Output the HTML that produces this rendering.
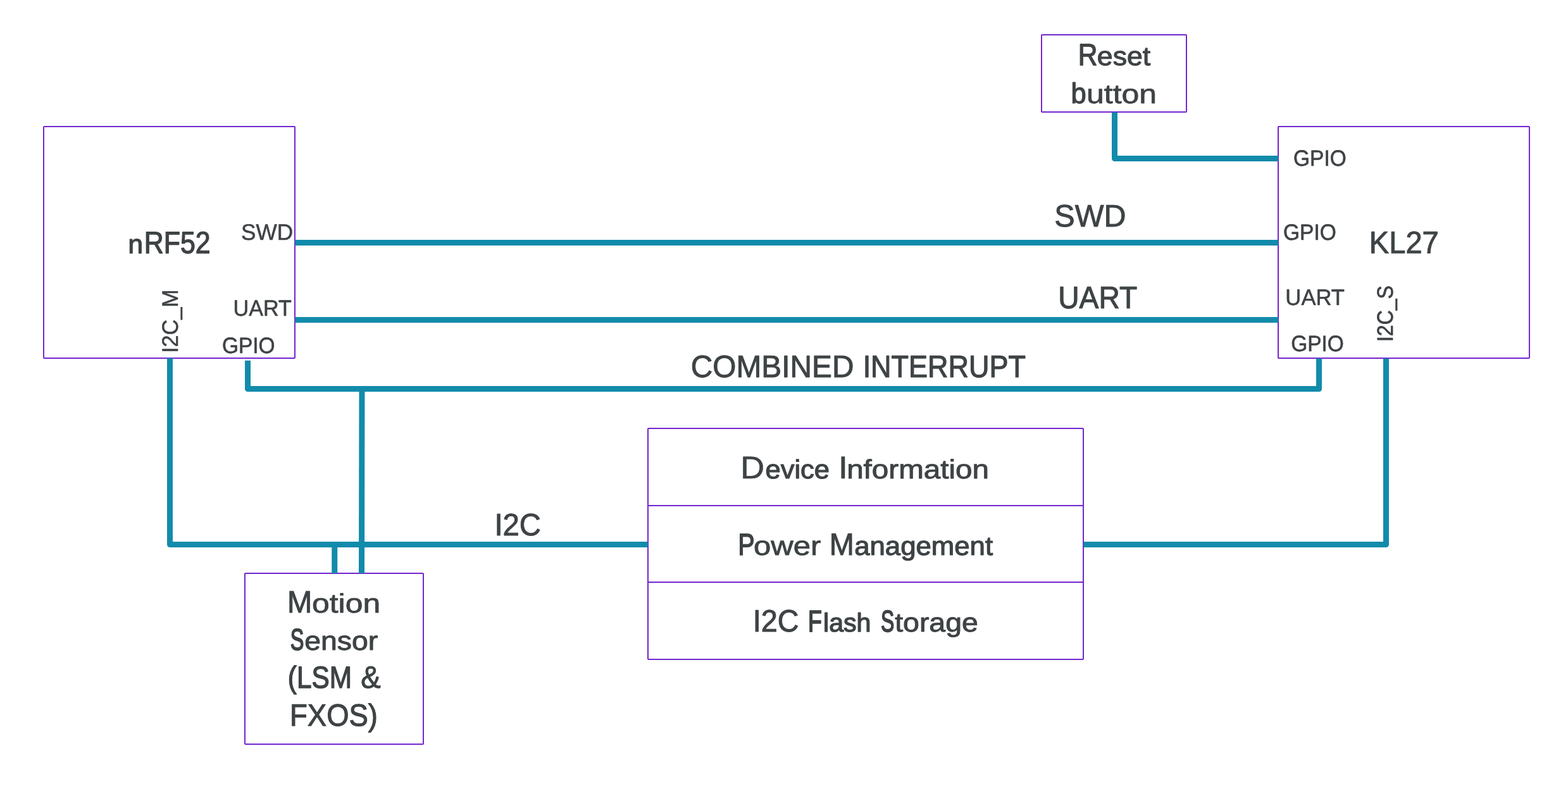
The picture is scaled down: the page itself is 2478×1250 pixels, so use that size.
<!DOCTYPE html>
<html lang="en">
<head>
<meta charset="utf-8">
<title>nRF52 / KL27 interface block diagram</title>
<style>
html,body{margin:0;padding:0;background:#fff;}
body{width:2478px;height:1250px;overflow:hidden;}
svg{display:block;}
text{text-rendering:geometricPrecision;font-family:"Liberation Sans",Arial,Helvetica,sans-serif;fill:#3e4345;stroke:#3e4345;stroke-linejoin:round;}
.big{font-size:49.00px;stroke-width:1.10px;}
.sm{font-size:35.32px;stroke-width:0.65px;}
.lc{font-size:41.65px;stroke-width:1.10px;}
.box{fill:#fff;stroke:#7426ce;stroke-width:2;stroke-linejoin:round;}
.div{stroke:#7426ce;stroke-width:2;fill:none;}
.wire{fill:none;stroke:#128bab;stroke-width:9;stroke-linejoin:round;stroke-linecap:butt;}
</style>
</head>
<body>
<svg width="2478" height="1250" viewBox="0 0 2478 1250">
<rect x="0" y="0" width="2478" height="1250" fill="#fff"/>
<g id="boxes">
<rect class="box" x="69" y="200" width="397" height="366" rx="1"/>
<rect class="box" x="2020" y="200" width="397" height="366" rx="1"/>
<rect class="box" x="1646" y="55" width="229" height="122" rx="1"/>
<rect class="box" x="387" y="906" width="282" height="270" rx="1"/>
<rect class="box" x="1024" y="677" width="688" height="365" rx="1"/>
<line class="div" x1="1024" y1="799" x2="1712" y2="799"/>
<line class="div" x1="1024" y1="920" x2="1712" y2="920"/>
</g>
<g id="wires">
<polyline class="wire" points="1761.5,177.5 1761.5,250.5 2020,250.5"/>
<polyline class="wire" points="466.4,383.5 2020,383.5"/>
<polyline class="wire" points="466.4,505.5 2020,505.5"/>
<polyline class="wire" points="391.5,569.8 391.5,614.5 2084.5,614.5 2084.5,566.5"/>
<polyline class="wire" points="572,614.5 571.5,906"/>
<polyline class="wire" points="268.5,566 268.5,860.5 1024,860.5"/>
<polyline class="wire" points="528.75,860.5 528.75,906"/>
<polyline class="wire" points="1712.4,860.5 2190.5,860.5 2190.5,566.5"/>
</g>
<g id="labels" opacity="0.999">
<text id="t-reset" class="big" y="103.00"><tspan style="font-size:48.57px;stroke-width:1.39px" x="1703.67" y="103.00" textLength="30.70" lengthAdjust="spacingAndGlyphs">R</tspan><tspan class="lc" style="font-size:41.66px;stroke-width:1.10px" x="1733.83" y="103.00" textLength="84.35" lengthAdjust="spacingAndGlyphs">eset</tspan></text>
<text id="t-button" class="big" y="163.00"><tspan class="lc" style="font-size:45.56px;stroke-width:1.24px" x="1692.54" y="163.00" textLength="24.20" lengthAdjust="spacingAndGlyphs">b</tspan><tspan class="lc" style="font-size:42.31px;stroke-width:0.75px" x="1717.08" y="163.00" textLength="111.01" lengthAdjust="spacingAndGlyphs">utton</tspan></text>
<text id="t-nrf" class="big" y="400.00"><tspan class="lc" style="font-size:41.35px;stroke-width:1.26px" x="202.56" y="400.00" textLength="23.50" lengthAdjust="spacingAndGlyphs">n</tspan><tspan style="font-size:48.61px;stroke-width:1.37px" x="227.84" y="400.00" textLength="104.70" lengthAdjust="spacingAndGlyphs">RF52</tspan></text>
<text id="t-swd_s" class="sm" y="379.00"><tspan style="font-size:35.48px;stroke-width:0.54px" x="381.03" y="379.00" textLength="82.09" lengthAdjust="spacingAndGlyphs">SWD</tspan></text>
<text id="t-uart_s" class="sm" y="499.00"><tspan style="font-size:35.37px;stroke-width:0.61px" x="368.58" y="499.00" textLength="92.40" lengthAdjust="spacingAndGlyphs">UART</tspan></text>
<text id="t-gpio_s" class="sm" y="558.00"><tspan style="font-size:35.30px;stroke-width:0.66px" x="350.96" y="558.00" textLength="83.68" lengthAdjust="spacingAndGlyphs">GPIO</tspan></text>
<text id="t-i2cm" class="sm" transform="translate(281.00,555.10) rotate(-90)" y="0"><tspan style="font-size:35.38px;stroke-width:0.61px" x="-2.76" y="0.00" textLength="100.38" lengthAdjust="spacingAndGlyphs">I2C_M</tspan></text>
<text id="t-swd" class="big" y="358.00"><tspan style="font-size:49.29px;stroke-width:0.90px" x="1666.33" y="358.00" textLength="113.20" lengthAdjust="spacingAndGlyphs">SWD</tspan></text>
<text id="t-uart" class="big" y="487.00"><tspan style="font-size:49.04px;stroke-width:1.07px" x="1672.22" y="487.00" textLength="124.99" lengthAdjust="spacingAndGlyphs">UART</tspan></text>
<text id="t-comb" class="big" y="596.00"><tspan style="font-size:49.20px;stroke-width:0.96px" x="1091.82" y="596.00" textLength="257.60" lengthAdjust="spacingAndGlyphs">COMBINED</tspan> <tspan style="font-size:48.89px;stroke-width:1.18px" x="1363.64" y="596.00" textLength="257.42" lengthAdjust="spacingAndGlyphs">INTERRUPT</tspan></text>
<text id="t-i2c" class="big" y="846.00"><tspan style="font-size:49.14px;stroke-width:1.00px" x="781.43" y="846.00" textLength="73.52" lengthAdjust="spacingAndGlyphs">I2C</tspan></text>
<text id="t-gpio1" class="sm" y="262.00"><tspan style="font-size:35.29px;stroke-width:0.67px" x="2044.06" y="262.00" textLength="83.68" lengthAdjust="spacingAndGlyphs">GPIO</tspan></text>
<text id="t-gpio2" class="sm" y="379.00"><tspan style="font-size:35.28px;stroke-width:0.68px" x="2028.04" y="379.00" textLength="83.74" lengthAdjust="spacingAndGlyphs">GPIO</tspan></text>
<text id="t-kl27" class="big" y="400.00"><tspan style="font-size:49.12px;stroke-width:1.01px" x="2163.86" y="400.00" textLength="109.95" lengthAdjust="spacingAndGlyphs">KL27</tspan></text>
<text id="t-uart_k" class="sm" y="482.00"><tspan style="font-size:35.41px;stroke-width:0.59px" x="2031.36" y="482.00" textLength="93.68" lengthAdjust="spacingAndGlyphs">UART</tspan></text>
<text id="t-gpio3" class="sm" y="555.00"><tspan style="font-size:35.29px;stroke-width:0.67px" x="2040.14" y="555.00" textLength="83.65" lengthAdjust="spacingAndGlyphs">GPIO</tspan></text>
<text id="t-i2cs" class="sm" transform="translate(2201.00,537.40) rotate(-90)" y="0"><tspan style="font-size:35.12px;stroke-width:0.79px" x="-2.63" y="0.00" textLength="88.85" lengthAdjust="spacingAndGlyphs">I2C_S</tspan></text>
<text id="t-dev" class="big" y="756.00"><tspan style="font-size:49.68px;stroke-width:0.64px" x="1170.35" y="756.00" textLength="37.83" lengthAdjust="spacingAndGlyphs">D</tspan><tspan class="lc" style="font-size:41.53px;stroke-width:1.16px" x="1209.48" y="756.00" textLength="101.61" lengthAdjust="spacingAndGlyphs">evice</tspan> <tspan style="font-size:49.87px;stroke-width:0.50px" x="1324.66" y="756.00" textLength="15.35" lengthAdjust="spacingAndGlyphs">I</tspan><tspan class="lc" style="font-size:42.04px;stroke-width:0.90px" x="1338.15" y="756.00" textLength="224.91" lengthAdjust="spacingAndGlyphs">nformation</tspan></text>
<text id="t-pow" class="big" y="877.00"><tspan style="font-size:48.07px;stroke-width:1.74px" x="1166.51" y="877.00" textLength="25.98" lengthAdjust="spacingAndGlyphs">P</tspan><tspan class="lc" style="font-size:42.23px;stroke-width:0.80px" x="1190.92" y="877.00" textLength="106.53" lengthAdjust="spacingAndGlyphs">ower</tspan> <tspan style="font-size:49.13px;stroke-width:1.01px" x="1310.82" y="877.00" textLength="39.14" lengthAdjust="spacingAndGlyphs">M</tspan><tspan class="lc" style="font-size:41.56px;stroke-width:1.15px" x="1350.18" y="877.00" textLength="218.95" lengthAdjust="spacingAndGlyphs">anagement</tspan></text>
<text id="t-fla" class="big" y="998.00"><tspan style="font-size:49.09px;stroke-width:1.04px" x="1189.77" y="998.00" textLength="72.68" lengthAdjust="spacingAndGlyphs">I2C</tspan> <tspan style="font-size:47.69px;stroke-width:2.00px" x="1277.03" y="998.00" textLength="21.89" lengthAdjust="spacingAndGlyphs">F</tspan><tspan class="lc" style="font-size:41.19px;stroke-width:1.34px" x="1301.02" y="998.00" textLength="75.50" lengthAdjust="spacingAndGlyphs">lash</tspan> <tspan style="font-size:47.69px;stroke-width:2.00px" x="1392.04" y="998.00" textLength="21.26" lengthAdjust="spacingAndGlyphs">S</tspan><tspan class="lc" style="font-size:41.90px;stroke-width:0.97px" x="1414.18" y="998.00" textLength="131.65" lengthAdjust="spacingAndGlyphs">torage</tspan></text>
<text id="t-mot" class="big" y="968.00"><tspan style="font-size:49.14px;stroke-width:1.01px" x="453.96" y="968.00" textLength="39.25" lengthAdjust="spacingAndGlyphs">M</tspan><tspan class="lc" style="font-size:42.30px;stroke-width:0.76px" x="492.97" y="968.00" textLength="108.22" lengthAdjust="spacingAndGlyphs">otion</tspan></text>
<text id="t-sen" class="big" y="1027.00"><tspan style="font-size:47.69px;stroke-width:2.00px" x="458.75" y="1027.00" textLength="21.55" lengthAdjust="spacingAndGlyphs">S</tspan><tspan class="lc" style="font-size:41.89px;stroke-width:0.98px" x="481.18" y="1027.00" textLength="116.02" lengthAdjust="spacingAndGlyphs">ensor</tspan></text>
<text id="t-lsm" class="big" y="1087.00"><tspan style="font-size:48.54px;stroke-width:1.41px" x="454.85" y="1087.00" textLength="101.07" lengthAdjust="spacingAndGlyphs">(LSM</tspan> <tspan style="font-size:49.14px;stroke-width:1.00px" x="570.13" y="1087.00" textLength="31.47" lengthAdjust="spacingAndGlyphs">&amp;</tspan></text>
<text id="t-fxos" class="big" y="1147.00"><tspan style="font-size:48.94px;stroke-width:1.14px" x="458.12" y="1147.00" textLength="138.85" lengthAdjust="spacingAndGlyphs">FXOS)</tspan></text>
</g>
</svg>
</body>
</html>
